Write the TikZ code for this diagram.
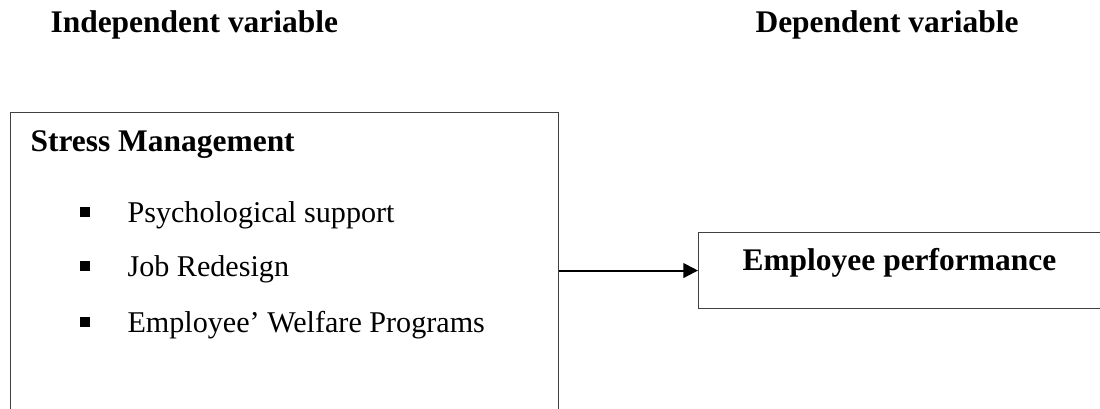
\documentclass[tikz,border=0pt]{standalone}
\usepackage{fontspec}
\setmainfont{Liberation Serif}
\usetikzlibrary{arrows.meta}

\begin{document}
\begin{tikzpicture}[x=0.75pt,y=-0.75pt,line width=0.8pt,
  box/.style={draw=black!75,line width=0.8pt,inner sep=0pt,anchor=north west},
  headtext/.style={anchor=base west,inner sep=0pt,font=\bfseries\fontsize{23.6}{28}\selectfont},
  itemtext/.style={anchor=base west,inner sep=0pt,font=\fontsize{22.6}{27}\selectfont},
  bullet/.style={fill=black,inner sep=0pt,minimum width=7.5pt,minimum height=6.8pt}]
\useasboundingbox (0,0) rectangle (1100,409);
\clip (0,0) rectangle (1100,409);
% column headings
\node[headtext] (indep) at (50,33) {Independent variable};
\node[headtext] (dep) at (755,33) {Dependent variable};

% independent variable box (runs past the lower edge)
\node[box,minimum width=411pt,minimum height=261pt] (stress) at (10,112) {};
\node[headtext] (stresstitle) at (30,152) {Stress Management};
\foreach \name/\ypos/\txt in {psy/223/Psychological support,
    job/277/Job Redesign,
    wel/333/Employee' Welfare Programs} {
  \node[bullet] (b\name) at (85,\ypos-11) {};
  \node[itemtext] (\name) at (127,\ypos) {\txt};
}

% dependent variable box (runs past the right edge)
\node[box,minimum width=330pt,minimum height=57pt] (perf) at (698,232) {};
\node[headtext] (perftext) at (742,271) {Employee performance};

% link
\draw[line width=1.5pt,-{Triangle[length=11pt,width=11pt]}] (stress.east |- perf.west) -- (perf.west);
\end{tikzpicture}
\end{document}
